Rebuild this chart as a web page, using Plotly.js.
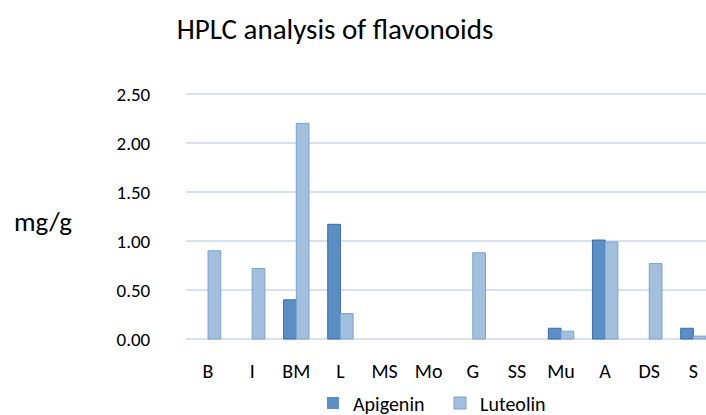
<!DOCTYPE html>
<html>
<head>
<meta charset="utf-8">
<script src="https://cdn.plot.ly/plotly-3.0.1.min.js"></script>
<style>html,body{margin:0;padding:0;background:#fff;overflow:hidden}#chart{width:706px;height:415px}</style>
</head>
<body>
<div id="chart"></div>
<script>
const categories = ["B", "I", "BM", "L", "MS", "Mo", "G", "SS", "Mu", "A", "DS", "S"];
const apigenin = [0, 0, 0.40, 1.17, 0, 0, 0, 0, 0.11, 1.01, 0, 0.11];
const luteolin = [0.90, 0.72, 2.20, 0.26, 0, 0, 0.88, 0, 0.08, 0.99, 0.77, 0.03];
const yTicks = [0, 0.5, 1, 1.5, 2, 2.5];
const yTickText = ["0.00", "0.50", "1.00", "1.50", "2.00", "2.50"];

const FONT = "Carlito, Calibri, Lato, sans-serif";
const W = 706, H = 415;
const plotL = 186.25, plotR = 706, plotT = 92, plotB = 341.3;
const pxPerCat = 44.1;

// hide the outline of empty (zero) bars
const outline = vals => vals.map(v => (v > 0 ? 1 : 0));

const traces = [
  {type: "bar", name: "Apigenin", x: categories, y: apigenin,
   marker: {color: "#5b8ec5", line: {color: "#3a6ea8", width: outline(apigenin)}}, hoverinfo: "x+y"},
  {type: "bar", name: "Luteolin", x: categories, y: luteolin,
   marker: {color: "#a2bfdd", line: {color: "#7aa3cf", width: outline(luteolin)}}, hoverinfo: "x+y"}
];

const layout = {
  width: W, height: H,
  margin: {l: plotL, r: W - plotR, t: plotT, b: H - plotB, pad: 0},
  paper_bgcolor: "#ffffff", plot_bgcolor: "#ffffff",
  font: {family: FONT, color: "#000000", size: 19},
  barmode: "group", bargap: 0.424, bargroupgap: 0,
  title: {text: "HPLC analysis of flavonoids", font: {family: FONT, size: 29, color: "#000"},
          xref: "container", x: 335 / W, xanchor: "center",
          yref: "container", y: 1 - 29 / H, yanchor: "middle"},
  xaxis: {type: "category", range: [-0.5, -0.5 + (plotR - plotL) / pxPerCat],
          showgrid: false, zeroline: false, showline: false,
          ticks: "outside", ticklen: 12, tickcolor: "rgba(0,0,0,0)",
          tickfont: {family: FONT, size: 20, color: "#000"}, fixedrange: true},
  yaxis: {range: [-0.02, 2.52], tickvals: yTicks, ticktext: yTickText,
          showgrid: true, gridcolor: "#d8e2ef", gridwidth: 2,
          zeroline: false, showline: false,
          ticks: "outside", ticklen: 31, tickcolor: "rgba(0,0,0,0)",
          tickfont: {family: FONT, size: 19, color: "#000"}, fixedrange: true},
  showlegend: true,
  legend: {orientation: "h", xref: "container", x: 313 / W, xanchor: "left",
           yref: "container", y: 1 - 403 / H, yanchor: "middle",
           font: {family: FONT, size: 20, color: "#000"}, itemwidth: 30, tracegroupgap: 0,
           entrywidth: 82, entrywidthmode: "pixels",
           bgcolor: "rgba(0,0,0,0)"},
  annotations: [
    {text: "mg/g", xref: "paper", yref: "paper", x: (43 - plotL) / (plotR - plotL), y: (plotB - 222) / (plotB - plotT),
     xanchor: "center", yanchor: "middle", showarrow: false, font: {family: FONT, size: 27, color: "#000"}}
  ]
};

Plotly.newPlot("chart", traces, layout, {displayModeBar: false, staticPlot: true});
</script>
</body>
</html>
